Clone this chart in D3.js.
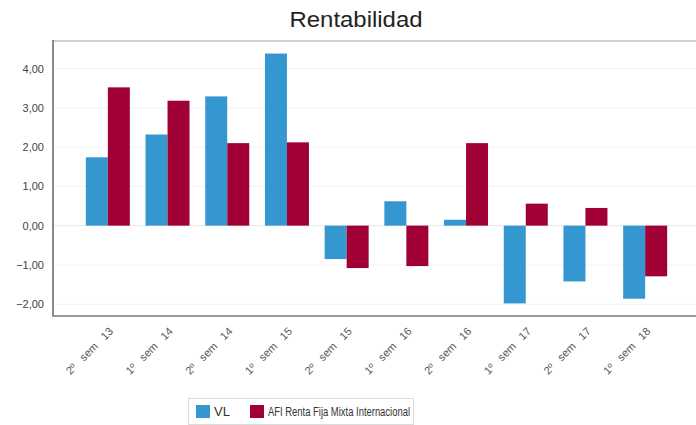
<!DOCTYPE html>
<html>
<head>
<meta charset="utf-8">
<script src="https://cdn.jsdelivr.net/npm/d3@7"></script>
<style>
  html, body { margin: 0; padding: 0; background: #fff; }
  svg { display: block; font-family: "Liberation Sans", Arial, sans-serif; }
</style>
</head>
<body>
<svg id="chart" width="696" height="425"></svg>
<script>
const categories = ["2º sem 13", "1º sem 14", "2º sem 14", "1º sem 15", "2º sem 15", "1º sem 16", "2º sem 16", "1º sem 17", "2º sem 17", "1º sem 18"];
const seriesNames = ["VL", "AFI Renta Fija Mixta Internacional"];
const vlValues = [1.74, 2.32, 3.29, 4.38, -0.85, 0.62, 0.15, -1.98, -1.42, -1.86];
const afiValues = [3.52, 3.18, 2.10, 2.12, -1.08, -1.03, 2.10, 0.56, 0.45, -1.29];
const yTicks = [-2, -1, 0, 1, 2, 3, 4];
const colors = ["#3497d0", "#a00034"];

(function () {
const svg = d3.select("#chart");
const mLeft = 53, mRight = 700, mTop = 41, mBottom = 316;

const x = d3.scaleBand().domain(categories).range([mLeft, mRight]).paddingInner(0.263).paddingOuter(0.55);
const xs = d3.scaleBand().domain(seriesNames).range([0, x.bandwidth()]);
const y = d3.scaleLinear().domain([-2.3, 4.7]).range([mBottom, mTop]);
const fmt = v => d3.format(".2f")(v).replace(".", ",");

// gridlines
svg.append("g").selectAll("line").data(yTicks).join("line")
  .attr("x1", mLeft).attr("x2", 696)
  .attr("y1", d => y(d)).attr("y2", d => y(d))
  .attr("stroke", d => d === 0 ? "#e6e6e6" : "#f3f3f3").attr("stroke-width", 1);

// top border
svg.append("line").attr("x1", mLeft).attr("x2", 696).attr("y1", mTop).attr("y2", mTop)
  .attr("stroke", "#cfcfcf").attr("stroke-width", 2);

// bars
const data = categories.map((c, i) => ({ c, vals: [vlValues[i], afiValues[i]] }));
const g = svg.append("g").selectAll("g").data(data).join("g")
  .attr("transform", d => `translate(${x(d.c)},0)`);
g.selectAll("rect").data(d => d.vals.map((v, j) => ({ v, s: seriesNames[j], j }))).join("rect")
  .attr("x", d => xs(d.s))
  .attr("width", xs.bandwidth())
  .attr("y", d => y(Math.max(0, d.v)))
  .attr("height", d => Math.abs(y(d.v) - y(0)))
  .attr("fill", d => colors[d.j]);

// y axis
const yAxis = svg.append("g").attr("transform", `translate(${mLeft},0)`)
  .call(d3.axisLeft(y).tickValues(yTicks).tickFormat(fmt).tickSize(0).tickPadding(9));
yAxis.select(".domain").attr("stroke", "#8a8a8a").attr("stroke-width", 2)
  .attr("d", `M0,${mTop - 1}V${mBottom + 1}`);
yAxis.selectAll("text").attr("font-size", 11).attr("fill", "#444").attr("font-family", "Liberation Sans, Arial, sans-serif");

// x axis
const xAxis = svg.append("g").attr("transform", `translate(0,${mBottom})`)
  .call(d3.axisBottom(x).tickSize(0).tickPadding(0));
xAxis.select(".domain").attr("stroke", "#9a9a9a").attr("stroke-width", 2)
  .attr("d", `M${mLeft},0H696`);
xAxis.selectAll("text")
  .attr("font-size", 11).attr("fill", "#555").attr("font-family", "Liberation Sans, Arial, sans-serif")
  .attr("text-anchor", "end")
  .attr("transform", "translate(6,16) rotate(-45)")
  .attr("dy", 0)
  .style("word-spacing", "6px");

// title
svg.append("text").attr("x", 356).attr("y", 27).attr("text-anchor", "middle")
  .attr("font-size", 22).attr("fill", "#222").attr("textLength", 133)
  .attr("lengthAdjust", "spacingAndGlyphs")
  .text("Rentabilidad");

// legend
const lg = svg.append("g");
lg.append("rect").attr("x", 188.5).attr("y", 398.5).attr("width", 225).attr("height", 26)
  .attr("fill", "#fff").attr("stroke", "#dcdcdc");
const items = [
  { name: seriesNames[0], color: colors[0], x: 196, w: 16 },
  { name: seriesNames[1], color: colors[1], x: 250, w: 142 }
];
items.forEach(it => {
  lg.append("rect").attr("x", it.x).attr("y", 405).attr("width", 14).attr("height", 13).attr("fill", it.color);
  lg.append("text").attr("x", it.x + 18).attr("y", 416).attr("font-size", 12).attr("fill", "#333")
    .attr("textLength", it.w).attr("lengthAdjust", "spacingAndGlyphs").text(it.name);
});
})();
</script>
</body>
</html>
